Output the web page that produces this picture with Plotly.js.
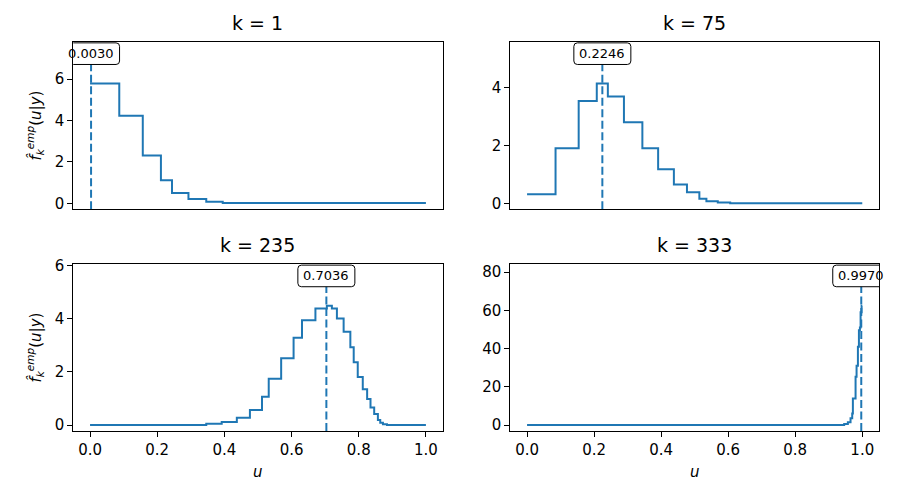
<!DOCTYPE html>
<html>
<head>
<meta charset="utf-8">
<script src="https://cdn.plot.ly/plotly-3.0.1.min.js"></script>
<style>html,body{margin:0;padding:0;background:#fff}#chart{width:900px;height:500px}</style>
</head>
<body>
<div id="chart"></div>
<script>
// ---- data ----
const kLabels = ["k = 1", "k = 75", "k = 235", "k = 333"];
const markers = [0.0030, 0.2246, 0.7036, 0.9970];
const markerLabels = ["0.0030", "0.2246", "0.7036", "0.9970"];

const u_k1 = [0, 0.087, 0.157, 0.211, 0.244, 0.293, 0.346, 0.395, 1.0];
const f_k1 = [5.78, 4.23, 2.31, 1.11, 0.50, 0.21, 0.07, 0.01, 0.01];

const u_k75 = [0, 0.085, 0.154, 0.208, 0.241, 0.289, 0.344, 0.391, 0.438, 0.477, 0.514, 0.535, 0.569, 0.606, 1.0];
const f_k75 = [0.31, 1.90, 3.54, 4.14, 3.69, 2.80, 1.90, 1.18, 0.65, 0.38, 0.16, 0.07, 0.03, 0.0, 0.0];

const u_k235 = [0, 0.346, 0.392, 0.437, 0.476, 0.512, 0.532, 0.569, 0.606, 0.631, 0.671, 0.705, 0.720, 0.735, 0.755, 0.775, 0.785, 0.797, 0.812, 0.825, 0.835, 0.846, 0.857, 0.864, 0.872, 0.884, 1.0];
const f_k235 = [0, 0.05, 0.11, 0.27, 0.56, 1.06, 1.74, 2.51, 3.28, 3.94, 4.38, 4.48, 4.38, 4.0, 3.5, 2.92, 2.36, 1.80, 1.34, 0.98, 0.66, 0.41, 0.19, 0.09, 0.03, 0, 0];

const u_k333 = [0, 0.946, 0.957, 0.965, 0.970, 0.972, 0.980, 0.983, 0.987, 0.990, 0.993, 0.995, 0.998, 1.0];
const f_k333 = [0, 0.5, 1.4, 3.5, 6, 13.9, 25.2, 31, 41, 49.6, 51, 59, 62.4, 62.4];

const yTicks = [[0, 2, 4, 6], [0, 2, 4], [0, 2, 4, 6], [0, 20, 40, 60, 80]];
const xTicks = [0, 0.2, 0.4, 0.6, 0.8, 1.0];
const xTickText = ["0.0", "0.2", "0.4", "0.6", "0.8", "1.0"];

// ---- layout ----
const U = [u_k1, u_k75, u_k235, u_k333];
const F = [f_k1, f_k75, f_k235, f_k333];
const blue = "#1f77b4";
const FONT = "DejaVu Sans, sans-serif";
const xDom = [[0.0814, 0.4919], [0.5670, 0.9767]];
const yDom = [[0.5814, 0.9166], [0.138, 0.472]];

const data = [];
const layout = {
  width: 900, height: 500,
  margin: {l: 0, r: 0, t: 0, b: 0},
  paper_bgcolor: "#fff", plot_bgcolor: "#fff",
  showlegend: false,
  font: {family: FONT, size: 15, color: "#000"},
  shapes: [], annotations: []
};

for (let i = 0; i < 4; i++) {
  const row = Math.floor(i / 2), col = i % 2;
  const sfx = i === 0 ? "" : String(i + 1);
  const xa = "x" + sfx, ya = "y" + sfx;
  const ymax = Math.max(...F[i]);
  const ylo = -0.05 * ymax, yhi = 1.35 * ymax;
  data.push({
    type: "scatter", mode: "lines", x: U[i], y: F[i],
    line: {color: blue, width: 2, shape: "hv"},
    xaxis: xa, yaxis: ya, hoverinfo: "skip"
  });
  layout["xaxis" + sfx] = {
    domain: xDom[col], anchor: ya, range: [-0.05, 1.05],
    showgrid: false, zeroline: false,
    showline: true, linecolor: "#000", linewidth: 1, mirror: true,
    tickmode: "array", tickvals: xTicks, ticktext: xTickText,
    ticks: row === 1 ? "outside" : "", ticklen: 5, tickwidth: 1, tickcolor: "#000",
    showticklabels: row === 1,
    tickfont: {family: FONT, size: 15, color: "#000"}
  };
  layout["yaxis" + sfx] = {
    domain: yDom[row], anchor: xa, range: [ylo, yhi],
    showgrid: false, zeroline: false,
    showline: true, linecolor: "#000", linewidth: 1, mirror: true,
    tickmode: "array", tickvals: yTicks[i], ticks: "outside",
    ticklen: 5, tickwidth: 1, tickcolor: "#000",
    tickfont: {family: FONT, size: 15, color: "#000"}
  };
  const ya_ref = ya, xa_ref = xa;
  const yl = 1.25 * ymax;
  // dashed marker line
  layout.shapes.push({
    type: "line", xref: xa_ref, yref: ya_ref,
    x0: markers[i], x1: markers[i], y0: ylo, y1: yl,
    line: {color: blue, width: 2, dash: "8px,3.5px"}, layer: "above"
  });
  // rounded label box (pixel sized, anchored at data point)
  const w = 28.5, h = 10.8, r = 3.5;
  const p = `M ${-w + r},${-h} L ${w - r},${-h} Q ${w},${-h} ${w},${-h + r} L ${w},${h - r} Q ${w},${h} ${w - r},${h} L ${-w + r},${h} Q ${-w},${h} ${-w},${h - r} L ${-w},${-h + r} Q ${-w},${-h} ${-w + r},${-h} Z`;
  layout.shapes.push({
    type: "path", xref: xa_ref, yref: ya_ref,
    xsizemode: "pixel", ysizemode: "pixel",
    xanchor: markers[i], yanchor: yl, path: p,
    fillcolor: "#fff", line: {color: "#000", width: 1}, layer: "above"
  });
  layout.annotations.push({
    xref: xa_ref, yref: ya_ref, x: markers[i], y: yl,
    text: markerLabels[i], showarrow: false,
    font: {family: FONT, size: 13, color: "#000"},
    xanchor: "center", yanchor: "middle"
  });
  // subplot title
  layout.annotations.push({
    xref: "paper", yref: "paper",
    x: (xDom[col][0] + xDom[col][1]) / 2,
    y: yDom[row][1] + 0.012,
    text: kLabels[i], showarrow: false,
    font: {family: FONT, size: 19, color: "#000"},
    xanchor: "center", yanchor: "bottom"
  });
}

// y labels (left column)
const ylab = "<i>f̂</i><sub><i>k</i></sub><sup><i>emp</i></sup>(<i>u</i>|<i>y</i>)";
for (let row = 0; row < 2; row++) {
  layout.annotations.push({
    xref: "paper", yref: "paper", x: 35 / 900,
    y: (yDom[row][0] + yDom[row][1]) / 2,
    text: ylab, textangle: -90, showarrow: false,
    font: {family: FONT, size: 15, color: "#000"},
    xanchor: "center", yanchor: "middle"
  });
}
// x labels (bottom row)
for (let col = 0; col < 2; col++) {
  layout.annotations.push({
    xref: "paper", yref: "paper",
    x: (xDom[col][0] + xDom[col][1]) / 2, y: 1 - 472 / 500,
    text: "<i>u</i>", showarrow: false,
    font: {family: FONT, size: 15, color: "#000"},
    xanchor: "center", yanchor: "middle"
  });
}

Plotly.newPlot("chart", data, layout, {staticPlot: true, displayModeBar: false});
</script>
</body>
</html>
